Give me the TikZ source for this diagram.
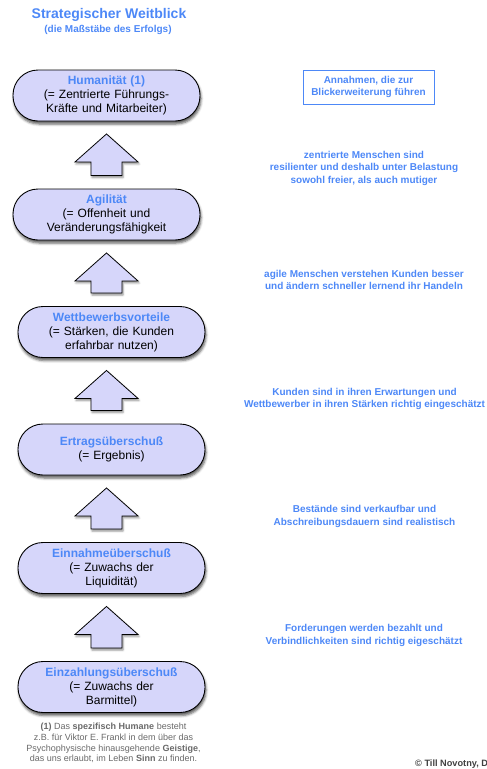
\documentclass[tikz,border=0pt]{standalone}
\usepackage{fontspec}
\setmainfont{Liberation Sans}
\usetikzlibrary{calc,shadows.blur}
\definecolor{blau}{RGB}{77,136,247}
\definecolor{lila}{RGB}{214,214,250}
\definecolor{grau}{RGB}{105,105,105}

\begin{document}
\begin{tikzpicture}[x=1pt,y=-1pt,
    stufe/.style={draw,line width=.9pt,fill=lila,rounded corners=25pt,
      minimum width=187pt,minimum height=51pt,text width=180pt,align=center,
      font=\fontsize{12}{14}\selectfont,
      blur shadow={shadow xshift=1pt,shadow yshift=-3pt,shadow blur radius=2.5pt,shadow opacity=65}},
    pfeil/.style={draw,line width=.8pt,fill=lila,line join=miter,
      blur shadow={shadow xshift=1pt,shadow yshift=-2pt,shadow blur radius=2pt,shadow opacity=45}},
    notiz/.style={text=blau,align=center,font=\fontsize{10}{12.5}\selectfont\bfseries}]
  \useasboundingbox (0,0) rectangle (487,769);
  \clip (0,0) rectangle (487,769);

  \node[text=blau,font=\fontsize{14}{16}\selectfont\bfseries] (titel) at (109,15) {Strategischer Weitblick};
  \node[notiz] (untertitel) at (108,30) {(die Maßstäbe des Erfolgs)};

  \node[stufe] (hum) at (106.5,95.5) {\textcolor{blau}{\textbf{Humanität (1)}}\\(= Zentrierte Führungs-\\Kräfte und Mitarbeiter)};
  \node[stufe] (agi) at (106.5,214.5) {\textcolor{blau}{\textbf{Agilität}}\\(= Offenheit und\\Veränderungsfähigkeit};
  \node[stufe] (wett) at (111.5,332) {\textcolor{blau}{\textbf{Wettbewerbsvorteile}}\\(= Stärken, die Kunden\\erfahrbar nutzen)};
  \node[stufe] (ertrag) at (111.5,449.5) {\textcolor{blau}{\textbf{Ertragsüberschuß}}\\(= Ergebnis)};
  \node[stufe] (einnahme) at (111.5,568) {\textcolor{blau}{\textbf{Einnahmeüberschuß}}\\(= Zuwachs der\\Liquidität)};
  \node[stufe] (einzahl) at (111.5,687) {\textcolor{blau}{\textbf{Einzahlungsüberschuß}}\\(= Zuwachs der\\Barmittel)};

  \coordinate (achse) at (106.5,0);
  \foreach \oben/\unten in {hum/agi,agi/wett,wett/ertrag,ertrag/einnahme,einnahme/einzahl}
    \draw[pfeil] ($(\oben.south -| achse)+(0,12.5)$) coordinate (s) -- ++(31.5,28) -- ++(-16,0)
      |- ($(\unten.north -| achse)+(15.5,-13)$) -- ++(-31,0) |- ($(s)+(-15.5,28)$) -- ++(-16,0) -- cycle;

  \node[notiz,draw=blau,line width=.8pt,minimum width=131pt,minimum height=34pt] (annahmen) at (368.5,87) {Annahmen, die zur\\Blickerweiterung führen};
  \node[notiz] (zentriert) at (364,168) {zentrierte Menschen sind\\resilienter und deshalb unter Belastung\\sowohl freier, als auch mutiger};
  \node[notiz] (agil) at (364,280) {agile Menschen verstehen Kunden besser\\und ändern schneller lernend ihr Handeln};
  \node[notiz] (kunden) at (364.5,399) {Kunden sind in ihren Erwartungen und\\Wettbewerber in ihren Stärken richtig eingeschätzt};
  \node[notiz] (bestand) at (364.5,516.5) {Bestände sind verkaufbar und\\Abschreibungsdauern sind realistisch};
  \node[notiz] (forderung) at (364,635.5) {Forderungen werden bezahlt und\\Verbindlichkeiten sind richtig eigeschätzt};

  \node[text=grau,align=center,font=\fontsize{9}{10.7}\selectfont] (fussnote) at (113.5,743) {\textbf{(1)} Das \textbf{spezifisch Humane} besteht\\z.B. für Viktor E. Frankl in dem über das\\Psychophysische hinausgehende \textbf{Geistige},\\das uns erlaubt, im Leben \textbf{Sinn} zu finden.};
  \node[anchor=west,inner sep=0pt,text=black!75,font=\fontsize{9.2}{11}\selectfont\bfseries] (copy) at (415,764) {© Till Novotny, D};
\end{tikzpicture}
\end{document}
